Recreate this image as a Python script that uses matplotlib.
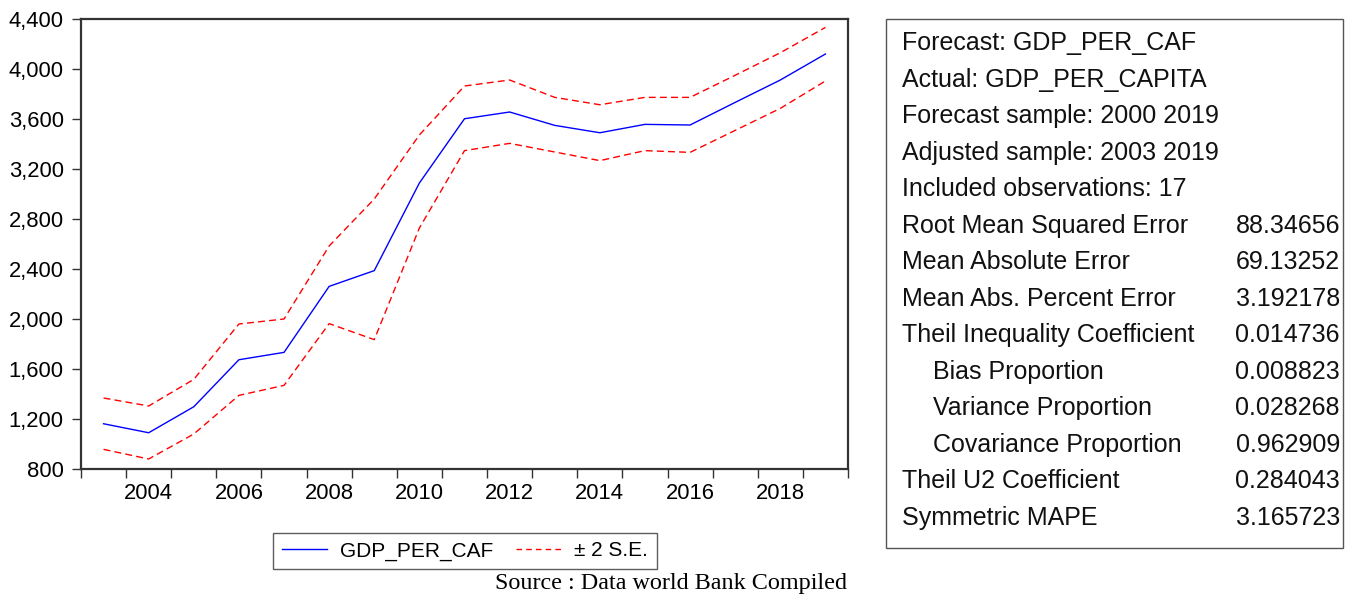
import matplotlib
matplotlib.use("Agg")
import matplotlib.pyplot as plt
import matplotlib.ticker as mticker
from matplotlib.patches import Rectangle
from matplotlib.lines import Line2D
import numpy as np

# ---- data ----
years = [2003, 2004, 2005, 2006, 2007, 2008, 2009, 2010, 2011,
         2012, 2013, 2014, 2015, 2016, 2017, 2018, 2019]
forecast = [1162, 1090, 1298, 1674, 1733, 2261, 2387, 3088, 3602,
            3656, 3549, 3490, 3557, 3552, 3733, 3912, 4120]
upper = [1368, 1304, 1517, 1960, 2000, 2584, 2960, 3472, 3864,
         3912, 3773, 3714, 3773, 3773, 3950, 4130, 4333]
lower = [957, 880, 1080, 1389, 1469, 1963, 1835, 2728, 3347,
         3405, 3336, 3267, 3347, 3333, 3509, 3685, 3904]
y_ticks = [800, 1200, 1600, 2000, 2400, 2800, 3200, 3600, 4000, 4400]
x_label_years = [2004, 2006, 2008, 2010, 2012, 2014, 2016, 2018]

stat_labels = ["Forecast: GDP_PER_CAF", "Actual: GDP_PER_CAPITA",
               "Forecast sample: 2000 2019", "Adjusted sample: 2003 2019",
               "Included observations: 17", "Root Mean Squared Error",
               "Mean Absolute Error", "Mean Abs. Percent Error",
               "Theil Inequality Coefficient", "Bias Proportion",
               "Variance Proportion", "Covariance Proportion",
               "Theil U2 Coefficient", "Symmetric MAPE"]
stat_values = ["", "", "", "", "", "88.34656", "69.13252", "3.192178",
               "0.014736", "0.008823", "0.028268", "0.962909",
               "0.284043", "3.165723"]
stat_indent = [False] * 9 + [True, True, True] + [False, False]

# ---- figure ----
W, H = 1353, 595
fig = plt.figure(figsize=(W / 100, H / 100), dpi=100)
plt.rcParams['font.family'] = ['Liberation Sans', 'DejaVu Sans']

def fx(px):
    return px / W

def fy(py):
    return 1 - py / H

ax_l, ax_r, ax_t, ax_b = 81, 848, 19, 469
ax = fig.add_axes([fx(ax_l), fy(ax_b), fx(ax_r - ax_l), (ax_b - ax_t) / H])

xpos = np.array(years) + 0.5
ax.plot(xpos, forecast, color='#0000ff', lw=1.0, solid_joinstyle='miter')
ax.plot(xpos, upper, color='#ff0000', lw=1.0, dashes=(5, 3))
ax.plot(xpos, lower, color='#ff0000', lw=1.0, dashes=(5, 3))

ax.set_xlim(2003, 2020)
ax.set_ylim(800, 4400)
ax.set_yticks(y_ticks)
ax.yaxis.set_major_formatter(mticker.FuncFormatter(lambda v, p: f"{v:,.0f}"))
ax.set_xticks(np.arange(2003, 2021))
ax.set_xticklabels([])
ax.set_xticks(np.array(x_label_years) + 0.5, minor=True)
ax.set_xticklabels([str(y) for y in x_label_years], minor=True)
ax.tick_params(axis='x', which='major', direction='out', length=6.5,
               width=1, color='#333333')
ax.tick_params(axis='x', which='minor', length=0, pad=10, labelsize=15.8)
ax.tick_params(axis='y', direction='out', length=6.5, width=1,
               color='#333333', pad=6, labelsize=15.8)
for s in ax.spines.values():
    s.set_linewidth(1.6)
    s.set_color('#333333')

# legend
handles = [Line2D([], [], color='#0000ff', lw=1.0),
           Line2D([], [], color='#ff0000', lw=1.0, dashes=(4, 3))]
leg = fig.legend(handles, ["GDP_PER_CAF", "± 2 S.E."], ncol=2,
                 loc='center', bbox_to_anchor=(fx(465), fy(551)),
                 frameon=True, fancybox=False, fontsize=15,
                 handlelength=2.2, handletextpad=0.6, columnspacing=1.1,
                 borderpad=0.4, borderaxespad=0)
leg.get_frame().set_edgecolor('#333333')
leg.get_frame().set_linewidth(1.0)

fig.text(fx(847), fy(583), "Source : Data world Bank Compiled",
         ha='right', va='center', fontsize=17.4,
         family=['Liberation Serif', 'DejaVu Serif'])

# stats box
fig.patches.append(Rectangle((fx(886), fy(548)), fx(1343 - 886), (548 - 19) / H,
                             transform=fig.transFigure, fill=False,
                             edgecolor='#555555', lw=1.0))
y0, dy = 43, 36.54
for i, (lab, val, ind) in enumerate(zip(stat_labels, stat_values, stat_indent)):
    yy = y0 + i * dy
    fig.text(fx(933 if ind else 902), fy(yy), lab, ha='left', va='center',
             fontsize=18, color='#111111')
    if val:
        fig.text(fx(1340), fy(yy), val, ha='right', va='center',
                 fontsize=18, color='#111111')

fig.savefig("out.png", dpi=100)
